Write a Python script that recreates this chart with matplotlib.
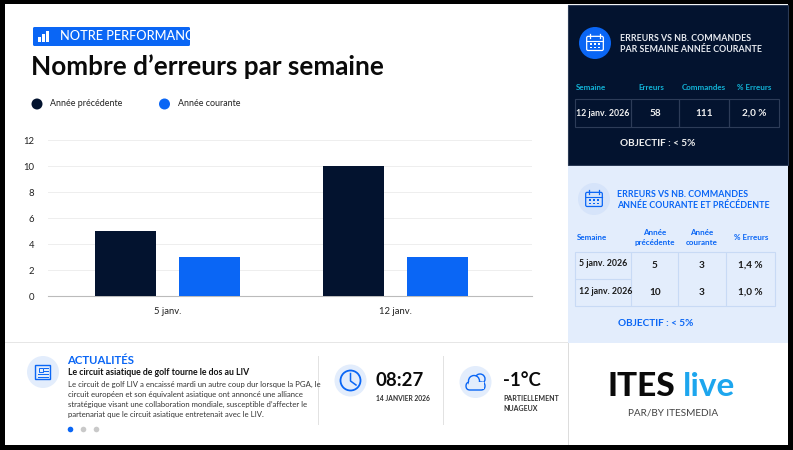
import matplotlib
matplotlib.use('Agg')
import matplotlib.pyplot as plt
from matplotlib.patches import Rectangle, Circle, FancyBboxPatch, Wedge, Arc

plt.rcParams['font.family'] = ['Lato', 'DejaVu Sans']

semaines = ['5 janv.', '12 janv.']
annee_precedente = [5, 10]
annee_courante = [3, 3]
yticks = [0, 2, 4, 6, 8, 10, 12]

NAVY = '#03132f'
BLUE = '#0a66f5'
PALE = '#e3edfc'
CYAN = '#12b4d8'
W, H = 793, 450

fig = plt.figure(figsize=(W/100, H/100), dpi=100, facecolor='black')
bg = fig.add_axes([0, 0, 1, 1], zorder=0)
bg.set_xlim(0, W); bg.set_ylim(H, 0); bg.axis('off')

def rect(x, y, w, h, fc, ec='none', lw=0, z=1):
    bg.add_patch(Rectangle((x, y), w, h, fc=fc, ec=ec, lw=lw, zorder=z))

def T(x, y, s, size, color='#111', weight='normal', ha='left', va='center', **k):
    bg.text(x, y, s, fontsize=size, color=color, fontweight=weight, ha=ha, va=va, zorder=5, **k)

rect(5, 4, 783, 441, '#ffffff')
rect(568, 5, 220, 160, NAVY, ec='#2b3a55', lw=0.8)
rect(568, 166, 220, 177, PALE)
rect(5, 342, 783, 1.2, '#e6e6e6', z=2)
rect(568, 343, 0.8, 102, '#dddddd', z=2)
rect(568, 166, 220, 177, PALE, z=2)

# header badge
bg.add_patch(FancyBboxPatch((33, 27), 157, 19, boxstyle='round,pad=0,rounding_size=1.5', fc=BLUE, ec='none', zorder=2))
for x, h in zip((38, 42, 46), (5, 8, 11)):
    rect(x, 42-h, 3, h, 'white', z=3)
T(60, 36.5, 'NOTRE PERFORMANCE', 9.2, 'white', 'medium')
T(31, 67, 'Nombre d’erreurs par semaine', 18.8, '#0a0a0a', 'bold')

# legend
bg.add_patch(Circle((37, 104), 5.5, fc=NAVY, zorder=3))
T(50, 104, 'Année précédente', 6.4, '#222')
bg.add_patch(Circle((164.5, 104), 5.5, fc=BLUE, zorder=3))
T(177.5, 104, 'Année courante', 6.4, '#222')

# chart
px0, px1, py0, py1 = 48, 532, 296, 140
ax = fig.add_axes([px0/W, 1-py0/H, (px1-px0)/W, (py0-py1)/H], zorder=3)
ax.patch.set_alpha(0)
step = 227.5
ax.set_xlim((px0-167.5)/step, (px1-167.5)/step)
ax.set_ylim(0, 12)
pos = range(len(semaines))
bw = 61/step; off = 42/step
ax.bar([p-off for p in pos], annee_precedente, bw, color=NAVY, zorder=3)
ax.bar([p+off for p in pos], annee_courante, bw, color=BLUE, zorder=3)
ax.set_xticks(list(pos)); ax.set_xticklabels(semaines, fontsize=6.8, color='#222')
ax.set_yticks(yticks); ax.set_yticklabels(yticks, fontsize=6.8, color='#222')
ax.tick_params(length=0, pad=8)
ax.tick_params(axis='y', pad=10)
ax.grid(axis='y', color='#eeeeee', lw=0.7, zorder=0)
for s in ('top', 'right', 'left'):
    ax.spines[s].set_visible(False)
ax.spines['bottom'].set_color('#bbbbbb'); ax.spines['bottom'].set_linewidth(0.8)

def calendar(cx, cy, r, disc, ink):
    bg.add_patch(Circle((cx, cy), r, fc=disc, zorder=3))
    s = r*0.52
    bg.add_patch(FancyBboxPatch((cx-s, cy-s*0.8), 2*s, 1.7*s, boxstyle='round,pad=0,rounding_size=1.5', fc='none', ec=ink, lw=0.9, zorder=4))
    bg.plot([cx-s, cx+s], [cy-s*0.3]*2, color=ink, lw=0.8, zorder=4)
    for dx in (-s*0.55, s*0.55):
        bg.plot([cx+dx]*2, [cy-s*1.05, cy-s*0.6], color=ink, lw=0.9, zorder=4)
    for i in (-1, 0, 1):
        for j in (0.1, 0.55):
            rect(cx+i*s*0.45-0.8, cy+j*s-0.5, 1.6, 1.4, ink, z=4)

# navy panel
calendar(595, 43, 16, BLUE, 'white')
T(619.5, 38.5, 'ERREURS VS NB. COMMANDES', 6.4, '#e6e9ef', 'bold')
T(619.5, 50, 'PAR SEMAINE ANNÉE COURANTE', 6.4, '#e6e9ef', 'bold')
for x, s in zip((591, 651, 704, 754), ('Semaine', 'Erreurs', 'Commandes', '% Erreurs')):
    T(x, 87, s, 5.8, CYAN, 'bold', ha='center')
xs = [575, 631, 679, 729, 778.5]
for x0, x1, s, fs in zip(xs, xs[1:], ('12 janv. 2026', '58', '111', '2,0 %'), (6.3, 7.2, 7.2, 7.2)):
    rect(x0, 99, x1-x0, 28, 'none', ec='#2d3c58', lw=0.8, z=3)
    T((x0+x1)/2, 113.5, s, fs, '#f0f0f0', 'bold', ha='center')
T(657.5, 144, 'OBJECTIF : < 5%', 7.2, '#f0f0f0', 'bold', ha='center')

# pale panel
calendar(594, 199, 16, '#d6e4fa', BLUE)
T(617, 194.5, 'ERREURS VS NB. COMMANDES', 6.4, BLUE, 'bold')
T(617, 206, 'ANNÉE COURANTE ET PRÉCÉDENTE', 6.4, BLUE, 'bold')
T(591.5, 237.5, 'Semaine', 5.8, BLUE, 'bold', ha='center')
T(655, 237.5, 'Année\nprécédente', 5.8, BLUE, 'bold', ha='center', linespacing=1.45)
T(702, 237.5, 'Année\ncourante', 5.8, BLUE, 'bold', ha='center', linespacing=1.45)
T(751.5, 237.5, '% Erreurs', 5.8, BLUE, 'bold', ha='center')
gx = [575, 631, 678, 726, 774.5]
rect(575, 252, 199.5, 54, 'none', ec='#c8daf5', lw=0.8, z=3)
for x in gx[1:-1]:
    rect(x, 252, 0.01, 54, 'none', ec='#c8daf5', lw=0.8, z=3)
rect(575, 278.5, 56, 0.01, 'none', ec='#c8daf5', lw=0.8, z=3)
rows = [('5 janv. 2026', '5', '3', '1,4 %', 264.5), ('12 janv. 2026', '10', '3', '1,0 %', 291.5)]
for a, b, c, d, y in rows:
    T(579, y-0.5, a, 6.3, '#1a1a1a', 'bold')
    T(655, y+1, b, 7.2, '#1a1a1a', 'bold', ha='center')
    T(702, y+1, c, 7.2, '#1a1a1a', 'bold', ha='center')
    T(750, y+1, d, 7.2, '#1a1a1a', 'bold', ha='center')
T(656, 324, 'OBJECTIF : < 5%', 7.2, BLUE, 'bold', ha='center')

# news
bg.add_patch(Circle((43, 372), 16, fc='#e3edfc', zorder=3))
rect(35, 365, 15, 14, 'none', ec=BLUE, lw=1, z=4)
rect(38.5, 367.5, 4, 4, 'none', ec=BLUE, lw=0.7, z=4)
for y in (368, 371, 374, 377):
    bg.plot([44 if y < 373 else 38, 48], [y, y], color=BLUE, lw=0.7, zorder=4)
T(67.5, 360, 'ACTUALITÉS', 8.2, BLUE, 'bold')
T(67.5, 372.5, 'Le circuit asiatique de golf tourne le dos au LIV', 6.3, '#111', 'bold')
lines = ['Le circuit de golf LIV a encaissé mardi un autre coup dur lorsque la PGA, le',
         'circuit européen et son équivalent asiatique ont annoncé une alliance',
         'stratégique visant une collaboration mondiale, susceptible d’affecter le',
         'partenariat que le circuit asiatique entretenait avec le LIV.']
for i, l in enumerate(lines):
    T(67.5, 384.5+i*10, l, 5.6, '#333')
for x, c in zip((70.5, 83.5, 96.5), (BLUE, '#c9c9c9', '#c9c9c9')):
    bg.add_patch(Circle((x, 429.5), 2.8, fc=c, zorder=3))
rect(318, 356, 0.8, 69, '#e2e2e2', z=3)
rect(443, 356, 0.8, 69, '#e2e2e2', z=3)

# clock
bg.add_patch(Circle((350.5, 380.5), 16, fc='#e3edfc', zorder=3))
bg.add_patch(Circle((350.5, 380.5), 10, fc='none', ec=BLUE, lw=1.3, zorder=4))
bg.plot([350.5, 350.5, 356], [373.5, 381, 385], color=BLUE, lw=1.1, zorder=4)
T(376, 380.5, '08:27', 13.4, '#0a0a0a', 'bold')
T(376, 398.5, '14 JANVIER 2026', 4.9, '#333', 'bold')

# weather
bg.add_patch(Circle((475.5, 382), 16, fc='#e3edfc', zorder=3))
bg.add_patch(Arc((480, 379), 10, 10, theta1=170, theta2=60, ec=BLUE, lw=1, zorder=4))
bg.add_patch(FancyBboxPatch((466, 382), 19, 8, boxstyle='round,pad=0,rounding_size=4', fc='#e3edfc', ec=BLUE, lw=1, zorder=4))
bg.add_patch(Circle((474, 381), 5.5, fc='#e3edfc', ec=BLUE, lw=1, zorder=4))
rect(469, 382, 15, 7, '#e3edfc', z=4)
T(503, 380.5, '-1°C', 13.4, '#0a0a0a', 'bold')
T(503, 398.5, 'PARTIELLEMENT', 5.0, '#333', 'bold')
T(503, 408.5, 'NUAGEUX', 5.0, '#333', 'bold')

# logo
T(607.5, 386, 'ITES', 24, '#0a0a0a', 'black')
T(683, 386, 'live', 24, '#1da6ee', 'bold')
T(673, 412.5, 'PAR/BY ITESMEDIA', 7.2, '#444', ha='center')

fig.savefig('out.png', dpi=100, facecolor='black')
